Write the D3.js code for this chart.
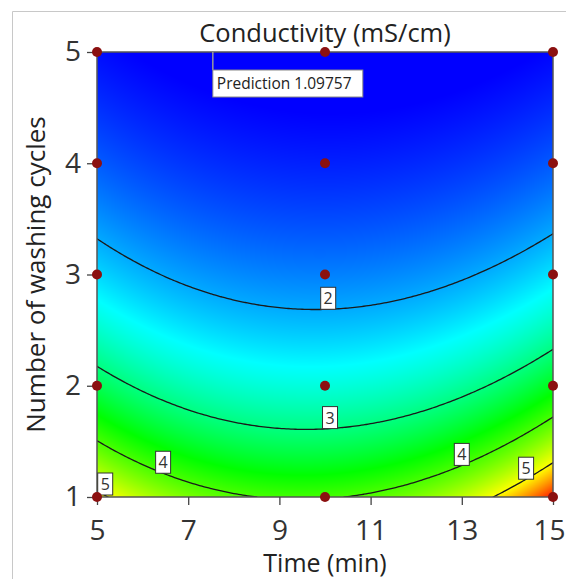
<!DOCTYPE html>
<html>
<head>
<meta charset="utf-8">
<script src="https://cdn.jsdelivr.net/npm/d3@7"></script>
<style>
  body { margin: 0; background: #fff; }
  svg { display: block; font-family: "Open Sans", sans-serif; }
</style>
</head>
<body>
<div class="contain"></div>
<script>
const timeTicks = [5, 7, 9, 11, 13, 15];
const cycleTicks = [1, 2, 3, 4, 5];
const contourLevels = [2, 3, 4, 5];

// design runs (red dots)
const designTime = [5, 5, 5, 5, 5, 10, 10, 10, 10, 10, 15, 15, 15, 15, 15];
const designCycles = [1, 2, 3, 4, 5, 1, 2, 3, 4, 5, 1, 2, 3, 4, 5];

// response surface, 1/sqrt(conductivity) in coded units
// terms: 1, A, B, AB, A^2, B^2   (A = time, B = cycles)
const modelTerms = ["1", "A", "B", "AB", "A2", "B2"];
const modelCoef = [0.7444, -0.0047, 0.237, 0.012, -0.078, -0.0054];

// where the contour labels sit (time) and their level
const labelTime = [10.07, 10.11, 6.45, 13.0, 5.18, 14.41];
const labelLevel = [2, 3, 4, 4, 5, 5];

const flagTime = 7.54, flagCycles = 5, flagValue = "1.09757";

const svg_width = 566, svg_height = 579;
const x = d3.scaleLinear().domain([5, 15]).range([97, 553]);
const y = d3.scaleLinear().domain([1, 5]).range([497, 52]);

function model(t, c) {
  const A = (t - 10) / 5, B = (c - 3) / 2;
  const v = [1, A, B, A * B, A * A, B * B];
  const h = d3.sum(v, (d, i) => d * modelCoef[i]);
  return 1 / (h * h);
}

const color = d3.scaleLinear()
  .domain([1.2, 2.4, 3.6, 5.0, 6.1])
  .range(["#0000ff", "#00ffff", "#00ff00", "#ffff00", "#ff0000"])
  .clamp(true);

let svg = d3.select(".contain").append("svg")
  .attr("width", svg_width).attr("height", svg_height);

// outer frame
svg.append("path")
  .attr("d", "M12.5,579V11.5H566")
  .attr("fill", "none").attr("stroke", "#c8c8c8");

// colour surface
const pw = Math.round(x(15) - x(5)), ph = Math.round(y(1) - y(5));
const canvas = document.createElement("canvas");
canvas.width = pw; canvas.height = ph;
const ctx = canvas.getContext("2d");
const img = ctx.createImageData(pw, ph);
for (let j = 0; j < ph; j++) {
  for (let i = 0; i < pw; i++) {
    const c = d3.rgb(color(model(x.invert(x(5) + i + 0.5), y.invert(y(5) + j + 0.5))));
    const k = (j * pw + i) * 4;
    img.data[k] = c.r; img.data[k + 1] = c.g; img.data[k + 2] = c.b; img.data[k + 3] = 255;
  }
}
ctx.putImageData(img, 0, 0);
svg.append("image")
  .attr("x", x(5)).attr("y", y(5)).attr("width", pw).attr("height", ph)
  .attr("href", canvas.toDataURL());

svg.append("clipPath").attr("id", "plot")
  .append("rect").attr("x", x(5)).attr("y", y(5)).attr("width", pw).attr("height", ph);

// contour lines
const nx = 201, ny = 161, sx = 10 / (nx - 1), sy = 4 / (ny - 1);
const grid = new Array(nx * ny);
for (let j = 0; j < ny; j++)
  for (let i = 0; i < nx; i++) grid[j * nx + i] = model(5 + i * sx, 1 + j * sy);
const proj = d3.geoTransform({
  point(px, py) { this.stream.point(x(5 + (px - 0.5) * sx), y(1 + (py - 0.5) * sy)); }
});
svg.append("g").attr("clip-path", "url(#plot)")
  .selectAll("path")
  .data(d3.contours().size([nx, ny]).thresholds(contourLevels)(grid))
  .join("path")
  .attr("d", d3.geoPath(proj))
  .attr("fill", "none").attr("stroke", "#1a1a1a").attr("stroke-width", 1.3);

// plot border
svg.append("rect")
  .attr("x", x(5)).attr("y", y(5)).attr("width", pw).attr("height", ph)
  .attr("fill", "none").attr("stroke", "#555").attr("stroke-width", 1.5);

// axes
const xAxis = svg.append("g").attr("transform", `translate(0, ${y(1)})`)
  .call(d3.axisBottom(x).tickValues(timeTicks).tickFormat(d3.format("d"))
    .tickSize(8).tickPadding(15));
const yAxis = svg.append("g").attr("transform", `translate(${x(5)}, 0)`)
  .call(d3.axisLeft(y).tickValues(cycleTicks).tickFormat(d3.format("d"))
    .tickSize(10).tickPadding(6));
[xAxis, yAxis].forEach(a => {
  a.select(".domain").remove();
  a.selectAll("line").attr("stroke", "#444").attr("stroke-width", 1.3);
  a.selectAll("text").attr("font-family", "Open Sans, sans-serif")
    .attr("font-size", 28).attr("fill", "#333");
});
// last time label sits on the window edge, nudge it in
xAxis.selectAll(".tick text").filter(d => d === 15).attr("dx", -4);

// contour labels
labelTime.forEach((t, i) => {
  const lv = labelLevel[i];
  let lo = 1, hi = 5, c = 1;
  if (model(t, 1) > lv && model(t, 5) < lv) {
    for (let k = 0; k < 40; k++) {
      const mid = (lo + hi) / 2;
      if (model(t, mid) > lv) lo = mid; else hi = mid;
    }
    c = lo;
  }
  const g = svg.append("g").attr("transform", `translate(${x(t)}, ${Math.min(y(c), y(1) - 2)})`);
  g.append("rect").attr("x", -7.5).attr("y", -22).attr("width", 15).attr("height", 22)
    .attr("fill", "#fff").attr("stroke", "#333").attr("stroke-width", 1);
  g.append("text").attr("y", -5).attr("text-anchor", "middle")
    .attr("font-size", 16).attr("fill", "#333").text(lv);
});

// design points
svg.append("g").selectAll("circle")
  .data(designTime).join("circle")
  .attr("cx", d => x(d)).attr("cy", (d, i) => y(designCycles[i]))
  .attr("r", 5).attr("fill", "#8b1010");

// prediction flag
const fx = x(flagTime), fy = y(flagCycles);
svg.append("line").attr("x1", fx).attr("x2", fx).attr("y1", fy).attr("y2", fy + 18)
  .attr("stroke", "#999").attr("stroke-width", 1.5);
const flag = svg.append("g").attr("transform", `translate(${fx}, ${fy + 18})`);
flag.append("rect").attr("width", 150).attr("height", 27)
  .attr("fill", "#fff").attr("stroke", "#888");
flag.append("text").attr("x", 4).attr("y", 19).attr("font-size", 15.5).attr("fill", "#222")
  .text("Prediction " + flagValue);

// titles
svg.append("text").attr("x", x(10)).attr("y", 42).attr("text-anchor", "middle")
  .attr("font-size", 25.5).attr("fill", "#222").text("Conductivity (mS/cm)");
svg.append("text").attr("x", x(10)).attr("y", 572).attr("text-anchor", "middle")
  .attr("font-size", 25).attr("fill", "#222").text("Time (min)");
svg.append("text").attr("transform", `translate(45, ${y(3)}) rotate(-90)`)
  .attr("text-anchor", "middle")
  .attr("font-size", 26).attr("fill", "#222").text("Number of washing cycles");
</script>
</body>
</html>
